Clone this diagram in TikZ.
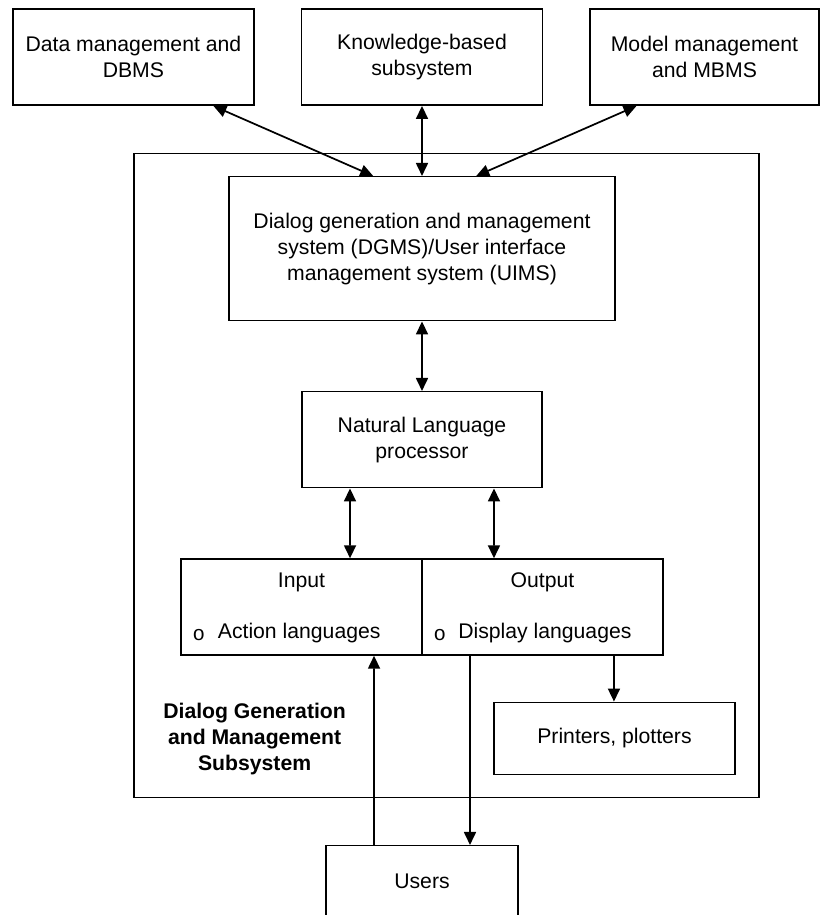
\documentclass[tikz,border=0pt]{standalone}
\usepackage{fontspec}
\setmainfont{Liberation Sans}
\newfontfamily\bulletfont{Liberation Mono}
\usetikzlibrary{arrows.meta,calc}
\begin{document}
\begin{tikzpicture}[x=0.75pt,y=-0.75pt,
  txt/.style={font=\fontsize{15.9}{19.4}\selectfont},
  box/.style={draw,line width=1.1pt,inner sep=0pt,align=center,txt},
  sz/.style 2 args={minimum width=#1*0.75pt,minimum height=#2*0.75pt},
  lbl/.style={inner sep=0pt,txt},
  bul/.style={inner sep=0pt,font=\bulletfont\fontsize{15.5}{17}\selectfont},
  tip/.tip={Triangle[length=9.75pt,width=9pt]},
  link/.style={line width=1.3pt,-tip},
  both/.style={line width=1.3pt,tip-tip},
]
\useasboundingbox (0,0) rectangle (820,915);

% external subsystems
\node[box,sz={241}{96}] (dbms)  at (133.4,57.2) {Data management and\\DBMS};
\node[box,sz={241}{96}] (know)  at (422,57.2)   {Knowledge-based\\subsystem};
\node[box,sz={229}{96}] (model) at (704.5,57.2) {Model management\\and MBMS};

% dialog subsystem frame
\node[box,sz={625}{644}] (frame) at (446.5,475.5) {};
\node[lbl,align=center,font=\fontsize{15.9}{19.4}\selectfont\bfseries] (title) at (254.6,739)
  {Dialog Generation\\and Management\\Subsystem};

\node[box,sz={386}{144}] (dgms) at (422,248.7)
  {Dialog generation and management\\system (DGMS)/User interface\\management system (UIMS)};
\node[box,sz={240}{96}] (nl) at (422,439.7) {Natural Language\\processor};

% input / output pair
\node[box,sz={241}{96}] (input)  at (301.5,607) {};
\node[box,sz={241}{96}] (output) at (542.5,607) {};
\node[lbl] (intitle)  at (301.5,582) {Input};
\node[lbl] (outtitle) at (542.5,582) {Output};
\node[bul] (inbul)  at (198.7,635) {o};
\node[bul] (outbul) at (439.7,635) {o};
\node[lbl,anchor=west] (initem)  at (217.6,633) {Action languages};
\node[lbl,anchor=west] (outitem) at (458,633)   {Display languages};

\node[box,sz={241}{72}] (print) at (614.5,738.3) {Printers, plotters};
\node[box,sz={192}{72}] (users) at (422,881.7) {Users};

% connectors
\draw[both] ($(dbms.south west)!0.83!(dbms.south east)$) -- ($(dgms.north west)!0.374!(dgms.north east)$);
\draw[both] (know.south) -- (dgms.north);
\draw[both] ($(model.south west)!0.205!(model.south east)$) -- ($(dgms.north west)!0.64!(dgms.north east)$);
\draw[both] (dgms.south) -- (nl.north);
\draw[both] ([xshift=-54pt]nl.south) -- ([xshift=36.4pt]input.north);
\draw[both] ([xshift=54pt]nl.south) -- ([xshift=-36.4pt]output.north);
\draw[link] ([xshift=53.6pt]output.south) -- ([xshift=-0.4pt]print.north);
\draw[link] ([xshift=-54.4pt]output.south) -- ([xshift=36pt]users.north);
\draw[link] ([xshift=-36pt]users.north) -- ([xshift=54.4pt]input.south);
\end{tikzpicture}
\end{document}
